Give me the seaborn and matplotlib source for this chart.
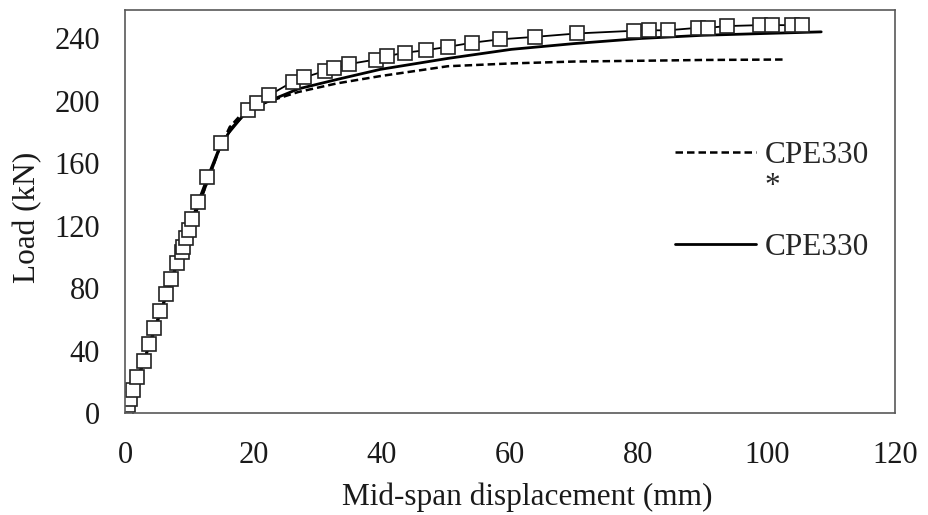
import numpy as np
import pandas as pd
import seaborn as sns
import matplotlib
matplotlib.use('Agg')
import matplotlib.pyplot as plt
from matplotlib.lines import Line2D

# experimental curve (square markers)
exp_x = [0, 0.15, 0.5, 0.8, 1.3, 1.9, 2.9, 3.8, 4.5, 5.5, 6.4, 7.1, 8.1, 8.85, 9.1, 9.5, 9.9,
         10.4, 11.3, 12.8, 14.9, 19.2, 20.6, 22.5, 26.1, 27.9, 31.1, 32.6, 34.9, 39.1, 40.8,
         43.6, 46.9, 50.3, 54.0, 58.4, 63.9, 70.5, 79.3, 81.6, 84.6, 89.3, 90.9, 93.75, 98.9,
         100.8, 103.9, 105.5]
exp_y = [0, 2.4, 5, 8.8, 15, 22.8, 33.5, 44, 54.6, 65, 76, 85.6, 96, 103, 106.4, 111.8, 117,
         124, 134.8, 151, 172.6, 194, 198.6, 203.5, 212, 214.8, 218.9, 220.6, 223.4, 226.3, 228.5,
         230.6, 232.3, 234.4, 237.0, 239.2, 240.8, 243, 244.7, 245, 245, 246.6, 246.6, 247.7, 248.3,
         248.3, 248.3, 248.3]

# numerical model CPE330 (solid)
num_x = [0, 2, 5, 8.3, 12, 14.6, 16.5, 19, 22, 27, 33, 39.8, 50.3, 60.2, 70, 80.5, 90, 100, 108.5]
num_y = [0, 22, 58, 98, 139, 168, 182, 193, 199, 207.5, 213.5, 220, 227, 232.8, 236.5, 239.8,
         241.8, 243, 244]

# numerical model CPE330* (dashed)
star_x = [0, 2, 5, 8.3, 12, 14.6, 16.3, 18.3, 22, 27, 33, 39.8, 50.3, 60.2, 70, 80.5, 90, 103]
star_y = [0, 22, 58, 98, 139, 168, 183, 192, 199, 205.5, 211, 215.7, 222, 223.8, 225, 225.5,
          226, 226.3]

x_ticks = [0, 20, 40, 60, 80, 100, 120]
y_ticks = [0, 40, 80, 120, 160, 200, 240]

sns.set_theme(style='white')
plt.rcParams['font.family'] = ['Liberation Serif', 'DejaVu Serif']

fig = plt.figure(figsize=(9.29, 5.15), dpi=100)
ax = fig.add_axes([0.1346, 0.198, 0.8288, 0.7826])

df_exp = pd.DataFrame({'x': exp_x, 'y': exp_y})
df_num = pd.DataFrame({'x': num_x, 'y': num_y})
df_star = pd.DataFrame({'x': star_x, 'y': star_y})

dash = (0, (3.0, 1.6))
sns.lineplot(data=df_star, x='x', y='y', ax=ax, sort=False, color='black',
             linewidth=1.8, linestyle=dash)
sns.lineplot(data=df_num, x='x', y='y', ax=ax, sort=False, color='black', linewidth=2.0)
sns.lineplot(data=df_exp, x='x', y='y', ax=ax, sort=False, color='black', linewidth=1.3,
             marker='s', markersize=9.5, markerfacecolor='white', markeredgecolor='#222222',
             markeredgewidth=1.2)

ax.set_xlim(0, 120)
ax.set_ylim(0, 258)
ax.set_xticks(x_ticks)
ax.set_yticks(y_ticks)
ax.tick_params(axis='both', length=0, labelsize=22, colors='#1a1a1a')
ax.tick_params(axis='x', pad=20)
ax.tick_params(axis='y', pad=18)
ax.set_xlabel('Mid-span displacement (mm)', fontsize=22.5, color='#1a1a1a')
ax.set_ylabel('Load (kN)', fontsize=22.5, color='#1a1a1a')
ax.xaxis.set_label_coords(0.523, -0.172)
ax.yaxis.set_label_coords(-0.108, 0.485)

for s in ax.spines.values():
    s.set_color('#595959')
    s.set_linewidth(1.2)

handles = [Line2D([], [], color='black', linewidth=1.8, linestyle=dash),
           Line2D([], [], color='none'),
           Line2D([], [], color='none'),
           Line2D([], [], color='black', linewidth=2.0)]
labels = ['CPE330', '*', ' ', 'CPE330']
ax.legend(handles, labels, loc='upper left', bbox_to_anchor=(0.714, 0.674), frameon=False,
          fontsize=22.5, handlelength=2.6, handletextpad=0.28, labelspacing=0.05,
          borderaxespad=0, borderpad=0)

fig.savefig('out.png', dpi=100)
